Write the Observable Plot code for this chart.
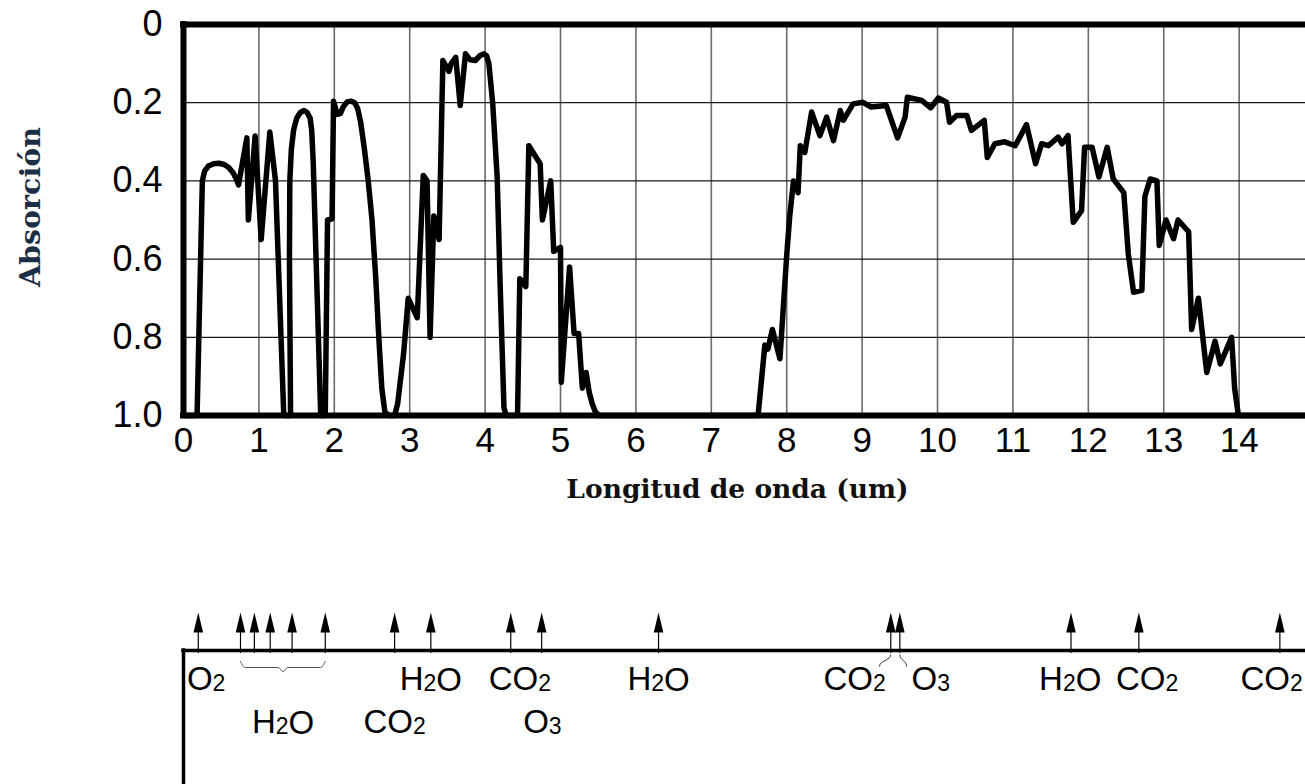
<!DOCTYPE html>
<html>
<head>
<meta charset="utf-8">
<script src="https://cdn.jsdelivr.net/npm/d3@7"></script>
<script src="https://cdn.jsdelivr.net/npm/@observablehq/plot@0.6"></script>
<style>
  html, body { margin: 0; padding: 0; background: #fff; }
  #chart svg { display: block; }
</style>
</head>
<body>
<div id="chart"></div>
<script>
// ---- Data ----
const wavelength = [
  0, 0.18, 0.25, 0.28, 0.33, 0.40, 0.47, 0.54, 0.60, 0.66, 0.70, 0.73, 0.84, 0.86, 0.95, 1.03, 1.145, 1.22, 1.33, 1.42,
  1.405, 1.41, 1.43, 1.46, 1.50, 1.55, 1.60, 1.64, 1.68, 1.70, 1.72, 1.82, 1.88, 1.91, 1.97, 1.99, 2.04, 2.08,
  2.12, 2.17, 2.22, 2.27, 2.31, 2.35, 2.40, 2.45, 2.50, 2.55, 2.59, 2.63, 2.67, 2.72, 2.80, 2.84,
  2.92, 2.98, 3.10, 3.18, 3.23, 3.27, 3.32, 3.39, 3.44,
  3.52, 3.55, 3.61, 3.67, 3.74, 3.80, 3.87, 3.93, 3.98, 4.02, 4.05, 4.10, 4.16, 4.20, 4.25, 4.28, 4.43, 4.46,
  4.54, 4.58, 4.73, 4.76, 4.87, 4.91, 5.00, 5.01, 5.12, 5.18, 5.24, 5.29, 5.34, 5.38, 5.42, 5.46, 5.51,
  7.62, 7.71, 7.75, 7.81, 7.91, 8.00, 8.04, 8.09, 8.15, 8.18, 8.24, 8.33, 8.44, 8.53, 8.62, 8.71,
  8.75, 8.88, 9.01, 9.12, 9.32, 9.47, 9.57, 9.60, 9.79, 9.91, 10.01, 10.12, 10.16, 10.25, 10.39,
  10.45, 10.62, 10.66, 10.76, 10.89, 11.03, 11.18, 11.30, 11.38, 11.47, 11.60, 11.65, 11.73, 11.80,
  11.91, 11.95, 12.05, 12.14, 12.25, 12.33, 12.47, 12.53, 12.60, 12.71, 12.75, 12.82, 12.91, 12.94,
  13.03, 13.13, 13.19, 13.33, 13.37, 13.46, 13.57, 13.68, 13.75, 13.90, 13.94, 13.99, 14.88
];
const absorption = [
  1.0, 1.0, 0.40, 0.375, 0.362, 0.356, 0.355, 0.358, 0.366, 0.38, 0.395, 0.41, 0.29, 0.50, 0.285, 0.55, 0.275, 0.40, 1.0, 1.0,
  0.60, 0.40, 0.32, 0.27, 0.24, 0.225, 0.22, 0.225, 0.24, 0.27, 0.35, 1.0, 1.0, 0.50, 0.497, 0.196, 0.23, 0.228,
  0.21, 0.198, 0.196, 0.20, 0.215, 0.25, 0.32, 0.40, 0.50, 0.65, 0.80, 0.93, 0.99, 1.0, 1.0, 0.97,
  0.84, 0.70, 0.75, 0.386, 0.40, 0.80, 0.49, 0.55, 0.092,
  0.12, 0.10, 0.084, 0.207, 0.075, 0.09, 0.092, 0.08, 0.075, 0.08, 0.10, 0.20, 0.39, 0.67, 0.98, 1.0, 1.0, 0.65,
  0.67, 0.31, 0.356, 0.50, 0.40, 0.58, 0.57, 0.915, 0.62, 0.79, 0.79, 0.93, 0.89, 0.94, 0.97, 0.99, 1.0,
  1.0, 0.82, 0.83, 0.78, 0.855, 0.59, 0.49, 0.40, 0.43, 0.31, 0.327, 0.224, 0.284, 0.237, 0.297, 0.22,
  0.245, 0.203, 0.199, 0.211, 0.207, 0.29, 0.237, 0.186, 0.194, 0.213, 0.188, 0.199, 0.25, 0.233, 0.233,
  0.271, 0.245, 0.34, 0.305, 0.30, 0.31, 0.256, 0.356, 0.305, 0.31, 0.288, 0.305, 0.284, 0.506,
  0.476, 0.314, 0.314, 0.39, 0.314, 0.395, 0.43, 0.587, 0.685, 0.68, 0.44, 0.395, 0.40, 0.565,
  0.50, 0.548, 0.50, 0.53, 0.78, 0.70, 0.89, 0.81, 0.868, 0.80, 0.93, 1.0, 1.0
];
const xTicks = [0, 1, 2, 3, 4, 5, 6, 7, 8, 9, 10, 11, 12, 13, 14];
const yTicks = [0, 0.2, 0.4, 0.6, 0.8, 1.0];

// absorption band markers (lower panel)
const arrowWavelengths = [0.196, 0.756, 0.94, 1.15, 1.44, 1.88, 2.80, 3.28, 4.34, 4.75, 6.30, 9.38, 9.50, 11.77, 12.67, 14.54];
const labelText = ["O2", "H2O", "H2O", "CO2", "CO2", "O3", "H2O", "CO2", "O3", "H2O", "CO2", "CO2"];
const labelX    = [0.30, 1.32, 3.28, 2.80, 4.46, 4.76, 6.30, 8.90, 9.91, 11.76, 12.78, 14.43];
const labelRow  = ["row1", "row2", "row1", "row2", "row1", "row2", "row1", "row1", "row1", "row1", "row1", "row1"];
const braceGroup = [0.756, 1.88];            // H2O arrows grouped by the brace
const connectorFrom = [9.38, 9.50];          // CO2 / O3 arrows joined to their labels
const connectorTo   = [9.23, 9.59];

// ---- Build ----
const W = 1305;
const xDomain = [0, 14.88];
const sans = "'Liberation Sans', Arial, Helvetica, sans-serif";
const serif = "'DejaVu Serif', serif";

const curve = wavelength.map((w, i) => ({w, a: absorption[i]}));

const plot1 = Plot.plot({
  width: W, height: 520,
  marginTop: 24, marginBottom: 105, marginLeft: 183, marginRight: 0,
  style: {fontFamily: sans, fontSize: "33px", color: "#000", background: "#fff", overflow: "visible"},
  x: {domain: xDomain, axis: null},
  y: {domain: [0, 1], reverse: true, axis: null},
  marks: [
    Plot.ruleX(xTicks.slice(1), {stroke: "#6a6a6a", strokeWidth: 1.6}),
    Plot.ruleY(yTicks.slice(1, -1), {stroke: "#1a1a1a", strokeWidth: 1.3}),
    Plot.line(curve, {x: "w", y: "a", stroke: "#000", strokeWidth: 5.5, strokeLinejoin: "round", strokeLinecap: "round"}),
    Plot.ruleY([0, 1], {stroke: "#000", strokeWidth: 6, strokeLinecap: "square"}),
    Plot.ruleX([0], {stroke: "#000", strokeWidth: 6, strokeLinecap: "square"}),
    Plot.axisX(xTicks, {tickSize: 0, tickPadding: 12, fontSize: 35, fontFamily: sans, label: null}),
    Plot.axisY(yTicks, {tickSize: 0, tickPadding: 21, fontSize: 36, fontFamily: sans, label: null,
      tickFormat: d => d === 0 ? "0" : d.toFixed(1)}),
    Plot.text(["Absorción"], {frameAnchor: "left", dx: -153, dy: -13, rotate: -90, textAnchor: "middle",
      fontFamily: serif, fontWeight: "bold", fontSize: 28.5, fill: "#1d2f47"}),
    Plot.text(["Longitud de onda (um)"], {frameAnchor: "bottom", dy: 82, dx: -7,
      fontFamily: serif, fontWeight: "bold", fontSize: 26.5, fill: "#111"})
  ]
});

// lower panel: vertical positions of its rows (panel pixels from its top)
const rowY = {tip: 92, headBase: 110, line: 130, row1: 159, row2: 202, bottom: 264};

const arrowHead = {
  draw(ctx) {
    ctx.moveTo(0, 0);
    ctx.lineTo(4.8, 20);
    ctx.lineTo(-4.8, 20);
    ctx.closePath();
  }
};

const labels = labelText.map((t, i) => ({t, x: labelX[i], row: labelRow[i]}));
const braceMid = (braceGroup[0] + braceGroup[1]) / 2;
const brace = [
  {x: braceGroup[0], y: rowY.line + 11},
  {x: braceGroup[0] + 0.06, y: rowY.line + 17},
  {x: braceMid - 0.06, y: rowY.line + 17},
  {x: braceMid, y: rowY.line + 21},
  {x: braceMid + 0.06, y: rowY.line + 17},
  {x: braceGroup[1] - 0.06, y: rowY.line + 17},
  {x: braceGroup[1], y: rowY.line + 11}
];
const connectors = connectorFrom.map((f, i) => ({from: f, to: connectorTo[i]}));

const plot2 = Plot.plot({
  width: W, height: 264,
  marginTop: 0, marginBottom: 0, marginLeft: 183, marginRight: 0,
  style: {fontFamily: sans, fontSize: "33px", color: "#000", background: "#fff", overflow: "visible"},
  x: {domain: xDomain, axis: null},
  y: {domain: [0, rowY.bottom], range: [0, rowY.bottom], axis: null},
  marks: [
    Plot.ruleX(arrowWavelengths, {y1: rowY.headBase, y2: rowY.line + 3, stroke: "#000", strokeWidth: 1.2}),
    Plot.dot(arrowWavelengths, {x: d => d, y: rowY.tip, symbol: arrowHead, fill: "#000", stroke: "none"}),
    Plot.link(connectors, {x1: "from", x2: "to", y1: rowY.line + 4, y2: rowY.line + 16,
      curve: "bump-y", stroke: "#333", strokeWidth: 1}),
    Plot.line(brace, {x: "x", y: "y", curve: "monotone-x", stroke: "#555", strokeWidth: 1}),
    Plot.ruleY([rowY.line], {stroke: "#000", strokeWidth: 3.5, strokeLinecap: "square"}),
    Plot.ruleX([0], {y1: rowY.line, y2: rowY.bottom, stroke: "#000", strokeWidth: 3.5, strokeLinecap: "square"}),
    Plot.text(labels, {x: "x", y: d => rowY[d.row], text: "t", fontSize: 33, fontFamily: sans, fill: "#000"})
  ]
});

// chemical formulas: set the digits as smaller subscript-style tspans
d3.select(plot2).selectAll('g[aria-label="text"] text').each(function () {
  const s = this.textContent;
  const el = d3.select(this);
  el.text(null);
  for (const part of s.match(/\d+|\D+/g)) {
    const t = el.append("tspan").text(part);
    if (/\d/.test(part)) t.attr("font-size", 23).attr("dy", 1);
    else t.attr("dy", 0);
  }
});

const host = document.getElementById("chart");
host.appendChild(plot1);
host.appendChild(plot2);
</script>
</body>
</html>
